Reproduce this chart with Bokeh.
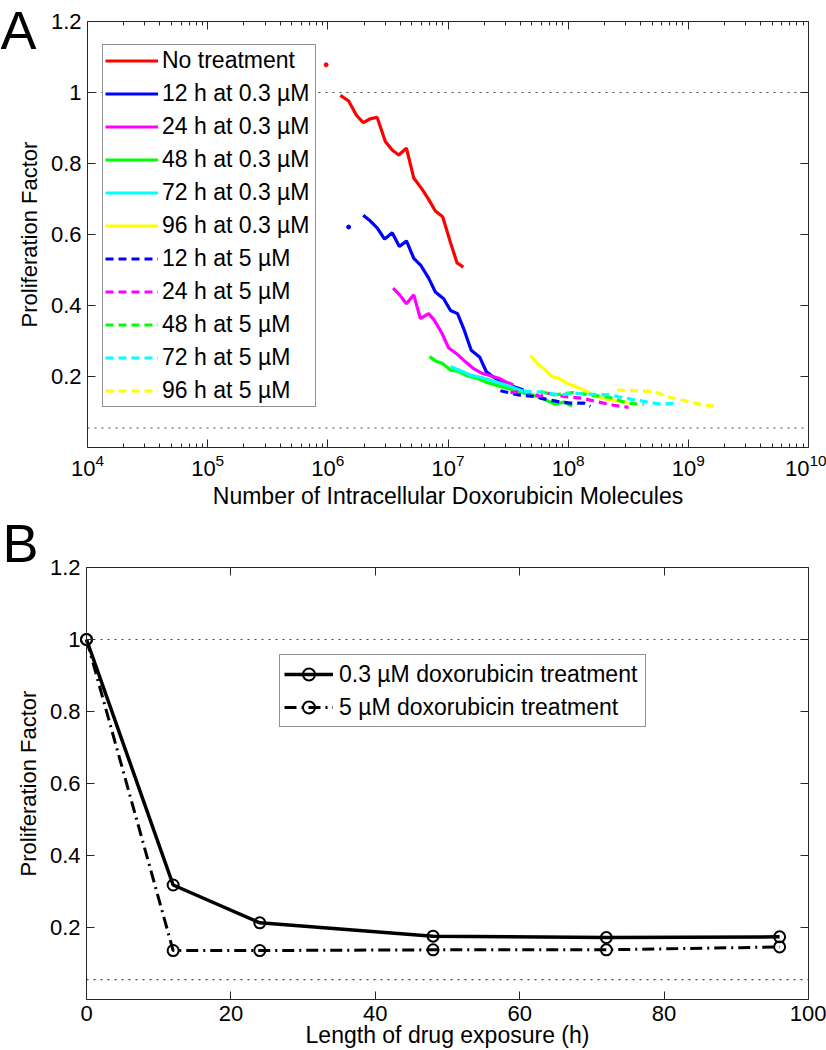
from bokeh.plotting import figure
from bokeh.models import (Legend, LegendItem, LinearAxis, LogAxis, Range1d,
                          FixedTicker, LogTickFormatter, Label)
from bokeh.layouts import column
from bokeh.embed import file_html
from bokeh.resources import INLINE

FONT = "Liberation Sans"

# ---------------- Panel A data (molecules vs proliferation factor) ----------------
nt_dot_x = [9.68e5]
nt_dot_y = [1.078]
nt_x = [1.27e6, 1.49e6, 1.73e6, 1.97e6, 2.26e6, 2.57e6, 3.01e6, 3.43e6, 3.89e6, 4.51e6,
        5.19e6, 6.10e6, 6.90e6, 7.85e6, 9.03e6, 1.05e7, 1.19e7, 1.34e7]
nt_y = [0.992, 0.976, 0.936, 0.915, 0.926, 0.930, 0.862, 0.838, 0.824, 0.843,
        0.759, 0.727, 0.699, 0.666, 0.650, 0.577, 0.520, 0.508]

b03_dot_x = [1.49e6]
b03_dot_y = [0.621]
b03_x = [1.97e6, 2.26e6, 2.57e6, 2.97e6, 3.43e6, 3.94e6, 4.51e6, 5.19e6, 5.97e6, 6.90e6,
         7.85e6, 9.20e6, 1.05e7, 1.20e7, 1.35e7, 1.56e7, 1.84e7, 2.08e7, 2.40e7, 2.73e7,
         3.14e7, 3.64e7, 4.24e7]
b03_y = [0.654, 0.638, 0.619, 0.587, 0.605, 0.566, 0.582, 0.533, 0.512, 0.477,
         0.438, 0.419, 0.386, 0.377, 0.335, 0.274, 0.254, 0.214, 0.198, 0.186,
         0.178, 0.170, 0.162]

m03_x = [3.49e6, 3.96e6, 4.51e6, 5.19e6, 5.89e6, 6.90e6, 7.71e6, 8.93e6, 1.01e7, 1.17e7,
         1.37e7, 1.62e7, 1.92e7, 2.25e7, 2.64e7, 3.06e7, 3.50e7]
m03_y = [0.449, 0.430, 0.405, 0.430, 0.363, 0.377, 0.358, 0.321, 0.281, 0.265,
         0.244, 0.223, 0.209, 0.202, 0.195, 0.184, 0.176]

g03_x = [7.04e6, 7.85e6, 8.93e6, 1.05e7, 1.23e7, 1.44e7, 1.75e7, 2.11e7, 2.56e7, 3.10e7,
         3.76e7, 4.55e7, 5.51e7, 6.68e7, 7.82e7, 9.18e7, 1.08e8]
g03_y = [0.256, 0.244, 0.237, 0.218, 0.214, 0.202, 0.195, 0.183, 0.175, 0.167,
         0.160, 0.151, 0.144, 0.132, 0.122, 0.128, 0.117]

c03_x = [1.05e7, 1.27e7, 1.53e7, 1.86e7, 2.25e7, 2.73e7, 3.30e7, 4.00e7, 4.85e7]
c03_y = [0.228, 0.216, 0.204, 0.198, 0.190, 0.181, 0.172, 0.161, 0.153]

y03_x = [4.85e7, 5.51e7, 6.25e7, 7.34e7, 8.34e7, 9.79e7, 1.15e8, 1.35e8, 1.58e8, 1.85e8,
         2.17e8, 2.72e8, 3.18e8]
y03_y = [0.260, 0.237, 0.223, 0.200, 0.195, 0.181, 0.172, 0.162, 0.150, 0.141,
         0.135, 0.130, 0.125]

b5_x = [2.73e7, 3.87e7, 5.16e7, 6.68e7, 8.09e7, 1.04e8, 1.35e8, 1.53e8]
b5_y = [0.160, 0.148, 0.144, 0.135, 0.130, 0.125, 0.125, 0.116]

m5_x = [3.30e7, 4.55e7, 5.87e7, 6.68e7, 9.18e7, 1.30e8, 1.68e8, 2.39e8, 3.18e8]
m5_y = [0.155, 0.158, 0.144, 0.153, 0.144, 0.139, 0.130, 0.119, 0.113]

g5_x = [5.87e7, 7.59e7, 1.11e8, 1.53e8, 2.24e8, 3.09e8, 4.25e8]
g5_y = [0.158, 0.148, 0.155, 0.148, 0.141, 0.125, 0.121]

c5_x = [4.27e7, 5.87e7, 8.61e7, 1.11e8, 1.58e8, 2.24e8, 2.99e8, 4.25e8, 5.85e8, 8.15e8]
c5_y = [0.158, 0.156, 0.148, 0.153, 0.150, 0.148, 0.139, 0.130, 0.122, 0.125]

y5_x = [2.55e8, 3.86e8, 5.14e8, 7.08e8, 9.86e8, 1.34e9, 1.71e9]
y5_y = [0.162, 0.160, 0.158, 0.141, 0.130, 0.119, 0.116]

labels_A = ["No treatment", "12 h at 0.3 \u00b5M", "24 h at 0.3 \u00b5M", "48 h at 0.3 \u00b5M",
            "72 h at 0.3 \u00b5M", "96 h at 0.3 \u00b5M", "12 h at 5 \u00b5M", "24 h at 5 \u00b5M",
            "48 h at 5 \u00b5M", "72 h at 5 \u00b5M", "96 h at 5 \u00b5M"]
colors_A = ["#FF0000", "#0000FF", "#FF00FF", "#00FF00", "#00FFFF", "#FFFF00",
            "#0000FF", "#FF00FF", "#00FF00", "#00FFFF", "#FFFF00"]
dashes_A = ["solid"] * 6 + ["8 5"] * 5
series_A = [(nt_x, nt_y), (b03_x, b03_y), (m03_x, m03_y), (g03_x, g03_y), (c03_x, c03_y),
            (y03_x, y03_y), (b5_x, b5_y), (m5_x, m5_y), (g5_x, g5_y), (c5_x, c5_y), (y5_x, y5_y)]

x_lims_A = [1e4, 1e10]
decade_ticks = [1e4, 1e5, 1e6, 1e7, 1e8, 1e9, 1e10]
y_lims = [0.0, 1.2]
y_ticks = [0.2, 0.4, 0.6, 0.8, 1.0, 1.2]

# ---------------- Panel B data ----------------
hours = [0, 12, 24, 48, 72, 96]
pf_03 = [1.0, 0.318, 0.213, 0.176, 0.172, 0.174]
pf_5 = [1.0, 0.136, 0.136, 0.138, 0.138, 0.146]
labels_B = ["0.3 \u00b5M doxorubicin treatment", "5 \u00b5M doxorubicin treatment"]
x_lims_B = [0, 100]
x_ticks_B = [0, 20, 40, 60, 80, 100]

ref_levels = [1.0, 0.055]

AX = "#262626"

# ---------------- layout geometry (pixels) ----------------
W = 826
HA, HB = 512, 538
A_L, A_R, A_T, A_B = 87, 808, 21, 447      # axes box of panel A inside figure A
B_L, B_R, B_T, B_B = 86, 808, 55, 487      # axes box of panel B inside figure B

a_ppd = (A_R - A_L) / 6.0
a_xr = (10 ** (4 - A_L / a_ppd), 10 ** (10 + (W - A_R) / a_ppd))
a_ppu = (A_B - A_T) / 1.2
a_yr = (-(HA - A_B) / a_ppu, 1.2 + A_T / a_ppu)

b_ppx = (B_R - B_L) / 100.0
b_xr = (-B_L / b_ppx, 100 + (W - B_R) / b_ppx)
b_ppu = (B_B - B_T) / 1.2
b_yr = (-(HB - B_B) / b_ppu, 1.2 + B_T / b_ppu)


def style_axis(ax, labels=True, font_size="22px", ticks=None):
    ax.axis_line_color = AX
    ax.axis_line_width = 1
    ax.major_tick_line_color = AX
    ax.minor_tick_line_color = AX
    ax.major_tick_in = 8
    ax.major_tick_out = 0
    ax.minor_tick_in = 4
    ax.minor_tick_out = 0
    ax.major_label_text_font = FONT
    ax.major_label_text_color = "black"
    ax.axis_label_text_font = FONT
    ax.axis_label_text_font_style = "normal"
    ax.axis_label_text_color = "black"
    if labels:
        ax.major_label_text_font_size = font_size
        ax.major_label_standoff = 6
    else:
        ax.major_label_text_font_size = "1px"
        ax.major_label_text_alpha = 0
        ax.major_label_standoff = 0
        if ticks is not None:
            ax.major_label_overrides = {t: " " for t in ticks}


def base_fig(**kw):
    p = figure(output_backend="svg", toolbar_location=None, min_border=0,
               x_axis_location=None, y_axis_location=None, **kw)
    p.background_fill_color = "white"
    p.border_fill_color = "white"
    p.outline_line_color = None
    p.grid.grid_line_color = None
    p.grid.visible = False
    return p


# ---------------- Figure A ----------------
minor_log = [m * 10 ** e for e in range(4, 10) for m in range(2, 10)]

pA = base_fig(width=W, height=HA, x_axis_type="log",
              x_range=Range1d(*a_xr), y_range=Range1d(*a_yr))

bottomA = LogAxis(ticker=FixedTicker(ticks=decade_ticks, minor_ticks=minor_log),
                  formatter=LogTickFormatter(), fixed_location=y_lims[0],
                  bounds=tuple(x_lims_A),
                  axis_label="Number of Intracellular Doxorubicin Molecules")
style_axis(bottomA)
bottomA.axis_label_text_font_size = "23px"
bottomA.axis_label_standoff = 4
pA.add_layout(bottomA, "below")

topA = LinearAxis(ticker=FixedTicker(ticks=decade_ticks, minor_ticks=minor_log),
                  fixed_location=y_lims[1], bounds=tuple(x_lims_A))
style_axis(topA, labels=False, ticks=decade_ticks)
pA.add_layout(topA, "above")

leftA = LinearAxis(ticker=FixedTicker(ticks=y_ticks), fixed_location=x_lims_A[0],
                   bounds=tuple(y_lims), axis_label="Proliferation Factor")
style_axis(leftA)
leftA.major_label_overrides = {1: "1"}
leftA.minor_tick_line_color = None
leftA.axis_label_text_font_size = "22px"
leftA.axis_label_standoff = 6
pA.add_layout(leftA, "left")

rightA = LinearAxis(ticker=FixedTicker(ticks=y_ticks), fixed_location=x_lims_A[1],
                    bounds=tuple(y_lims))
style_axis(rightA, labels=False, ticks=y_ticks)
rightA.minor_tick_line_color = None
pA.add_layout(rightA, "right")

pA.segment(x0=[x_lims_A[0]] * 2, y0=ref_levels, x1=[x_lims_A[1]] * 2, y1=ref_levels,
           line_color="#444444", line_dash="2 5", line_width=1.2)

items = []
for (xs, ys), lab, col, dsh in zip(series_A, labels_A, colors_A, dashes_A):
    r = pA.line(xs, ys, line_color=col, line_width=3.2, line_dash=dsh)
    items.append(LegendItem(label=lab, renderers=[r]))
pA.scatter(nt_dot_x, nt_dot_y, size=4, color="#FF0000")
pA.scatter(b03_dot_x, b03_dot_y, size=4, color="#0000FF")

legA = Legend(items=items, location=(102, HA - 407), label_text_font=FONT,
              label_text_font_size="23px", label_text_color="black",
              glyph_width=53, glyph_height=27, label_height=27, label_width=151,
              spacing=6, padding=2, label_standoff=4, border_line_color=AX,
              border_line_width=1, background_fill_color="white",
              background_fill_alpha=1.0)
pA.add_layout(legA)

pA.add_layout(Label(x=0, y=HA - 50 + 21, x_units="screen", y_units="screen", text="A",
                    text_font=FONT, text_font_size="54px", text_color="black",
                    text_baseline="alphabetic", text_align="left"))

# ---------------- Figure B ----------------
pB = base_fig(width=W, height=HB, x_range=Range1d(*b_xr), y_range=Range1d(*b_yr))

bottomB = LinearAxis(ticker=FixedTicker(ticks=x_ticks_B), fixed_location=y_lims[0],
                     bounds=tuple(x_lims_B))
style_axis(bottomB)
bottomB.minor_tick_line_color = None
pB.add_layout(bottomB, "below")

topB = LinearAxis(ticker=FixedTicker(ticks=x_ticks_B), fixed_location=y_lims[1],
                  bounds=tuple(x_lims_B))
style_axis(topB, labels=False, ticks=x_ticks_B)
topB.minor_tick_line_color = None
pB.add_layout(topB, "above")

leftB = LinearAxis(ticker=FixedTicker(ticks=y_ticks), fixed_location=x_lims_B[0],
                   bounds=tuple(y_lims), axis_label="Proliferation Factor")
style_axis(leftB)
leftB.major_label_overrides = {1: "1"}
leftB.minor_tick_line_color = None
leftB.axis_label_text_font_size = "22px"
leftB.axis_label_standoff = 6
pB.add_layout(leftB, "left")

rightB = LinearAxis(ticker=FixedTicker(ticks=y_ticks), fixed_location=x_lims_B[1],
                    bounds=tuple(y_lims))
style_axis(rightB, labels=False, ticks=y_ticks)
rightB.minor_tick_line_color = None
pB.add_layout(rightB, "right")

pB.segment(x0=[x_lims_B[0]] * 2, y0=ref_levels, x1=[x_lims_B[1]] * 2, y1=ref_levels,
           line_color="#444444", line_dash="2 5", line_width=1.2)

l1 = pB.line(hours, pf_03, line_color="black", line_width=3.5)
s1 = pB.scatter(hours, pf_03, marker="circle", size=11, fill_color=None,
                line_color="black", line_width=2)
l2 = pB.line(hours, pf_5, line_color="black", line_width=3, line_dash="12 5 2 5")
s2 = pB.scatter(hours, pf_5, marker="circle", size=11, fill_color=None,
                line_color="black", line_width=2)

legB = Legend(items=[LegendItem(label=labels_B[0], renderers=[l1, s1]),
                     LegendItem(label=labels_B[1], renderers=[l2, s2])],
              location=(279, HB - (727 - HA)), label_text_font=FONT,
              label_text_font_size="23px",
              label_text_color="black", glyph_width=49, glyph_height=30, label_height=30,
              label_width=302, spacing=3, padding=4, label_standoff=6,
              border_line_color=AX, border_line_width=1,
              background_fill_color="white", background_fill_alpha=1.0)
pB.add_layout(legB)

pB.add_layout(Label(x=(B_L + B_R) / 2, y=16, x_units="screen", y_units="screen",
                    text="Length of drug exposure (h)", text_font=FONT,
                    text_font_size="23px", text_color="black",
                    text_baseline="alphabetic", text_align="center"))
pB.add_layout(Label(x=2, y=HB - (563 - HA) + 21, x_units="screen", y_units="screen",
                    text="B", text_font=FONT, text_font_size="54px", text_color="black",
                    text_baseline="alphabetic", text_align="left"))

layout = column(pA, pB, spacing=0)
open("out.html", "w").write(file_html(layout, INLINE))
